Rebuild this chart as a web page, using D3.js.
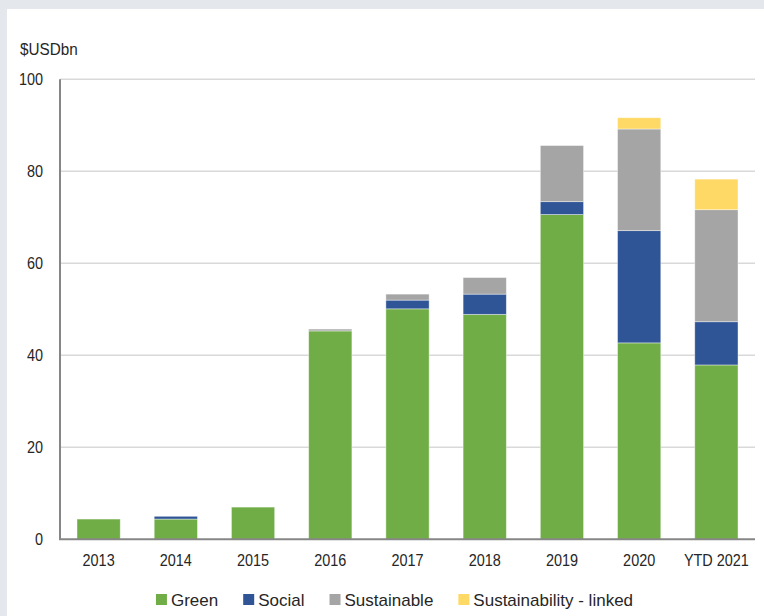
<!DOCTYPE html>
<html>
<head>
<meta charset="utf-8">
<script src="https://cdn.jsdelivr.net/npm/d3@7"></script>
<style>
  html, body { margin: 0; padding: 0; background: #e4e8ed; }
  svg { display: block; }
  text { font-family: "Liberation Sans", Arial, sans-serif; fill: #262626; }
</style>
</head>
<body>
<svg id="chart" width="764" height="616"></svg>
<script>
// Issuance by year, $USDbn
const categories = ["2013", "2014", "2015", "2016", "2017", "2018", "2019", "2020", "YTD 2021"];
const green = [4.4, 4.4, 7.0, 45.3, 50.1, 48.9, 70.6, 42.7, 37.9];
const social = [0, 0.6, 0, 0, 1.9, 4.4, 2.8, 24.4, 9.4];
const sustainable = [0, 0, 0, 0.4, 1.3, 3.6, 12.2, 22.1, 24.35];
const sustainabilityLinked = [0, 0, 0, 0, 0, 0, 0, 2.45, 6.65];
const seriesNames = ["Green", "Social", "Sustainable", "Sustainability - linked"];
const seriesColors = ["#70ad47", "#2f5597", "#a5a5a5", "#ffd966"];
const yTicks = [0, 20, 40, 60, 80, 100];
const unitLabel = "$USDbn";

const svg = d3.select("#chart");
const W = 764, H = 616;

// white panel on the light frame
svg.append("rect").attr("x", 7).attr("y", 9).attr("width", W - 7).attr("height", H - 9).attr("fill", "#ffffff");

const plot = { left: 60, right: 755, top: 79.3, bottom: 539.3 };

const rows = categories.map((c, i) => ({
  cat: c,
  Green: green[i],
  Social: social[i],
  Sustainable: sustainable[i],
  "Sustainability - linked": sustainabilityLinked[i]
}));

const stack = d3.stack().keys(seriesNames)(rows);

const x = d3.scaleBand().domain(categories).range([plot.left, plot.right]).paddingInner(0.44).paddingOuter(0.22);
const y = d3.scaleLinear().domain([0, 100]).range([plot.bottom, plot.top]);
const color = d3.scaleOrdinal().domain(seriesNames).range(seriesColors);

// gridlines
svg.append("g")
  .selectAll("line")
  .data(yTicks.filter(t => t > 0))
  .join("line")
  .attr("x1", plot.left).attr("x2", plot.right)
  .attr("y1", d => y(d)).attr("y2", d => y(d))
  .attr("stroke", "#d9d9d9").attr("stroke-width", 1.5);

// stacked bars
svg.append("g")
  .selectAll("g")
  .data(stack)
  .join("g")
  .attr("fill", d => color(d.key))
  .selectAll("rect")
  .data(d => d.filter(s => s[1] - s[0] > 0))
  .join("rect")
  .attr("x", d => x(d.data.cat))
  .attr("width", x.bandwidth())
  .attr("y", d => y(d[1]))
  .attr("height", d => y(d[0]) - y(d[1]))
  .attr("stroke", "#ffffff").attr("stroke-opacity", 0.5).attr("stroke-width", 0.8);

// axis lines
svg.append("line")
  .attr("x1", plot.left).attr("x2", plot.left)
  .attr("y1", plot.top).attr("y2", plot.bottom)
  .attr("stroke", "#868686").attr("stroke-width", 2);
svg.append("line")
  .attr("x1", plot.left - 1).attr("x2", plot.right)
  .attr("y1", plot.bottom).attr("y2", plot.bottom)
  .attr("stroke", "#868686").attr("stroke-width", 2);

// y tick labels (narrow face)
const sx = 0.85;
svg.append("g")
  .selectAll("text")
  .data(yTicks)
  .join("text")
  .attr("transform", d => `translate(43,${y(d)}) scale(${sx},1)`)
  .attr("text-anchor", "end")
  .attr("dy", "0.36em")
  .style("font-size", "17px")
  .text(d => d);

// x tick labels
svg.append("g")
  .selectAll("text")
  .data(categories)
  .join("text")
  .attr("transform", d => `translate(${x(d) + x.bandwidth() / 2},565.5) scale(${sx},1)`)
  .attr("text-anchor", "middle")
  .style("font-size", "17px")
  .text(d => d);

// unit label
svg.append("text")
  .attr("transform", `translate(20,55) scale(0.9,1)`)
  .style("font-size", "17px")
  .text(unitLabel);

// legend
const legend = svg.append("g");
let cx = 0;
seriesNames.forEach(name => {
  const g = legend.append("g");
  g.append("rect").attr("x", 0).attr("y", -11.5).attr("width", 11).attr("height", 11).attr("fill", color(name));
  const t = g.append("text").attr("x", 15).attr("y", 0).style("font-size", "17px").text(name);
  const w = 15 + t.node().getComputedTextLength();
  g.attr("transform", `translate(${cx},0)`);
  cx += w + 25;
});
const totalW = cx - 25;
legend.attr("transform", `translate(${394.5 - totalW / 2},605.5)`);
</script>
</body>
</html>
